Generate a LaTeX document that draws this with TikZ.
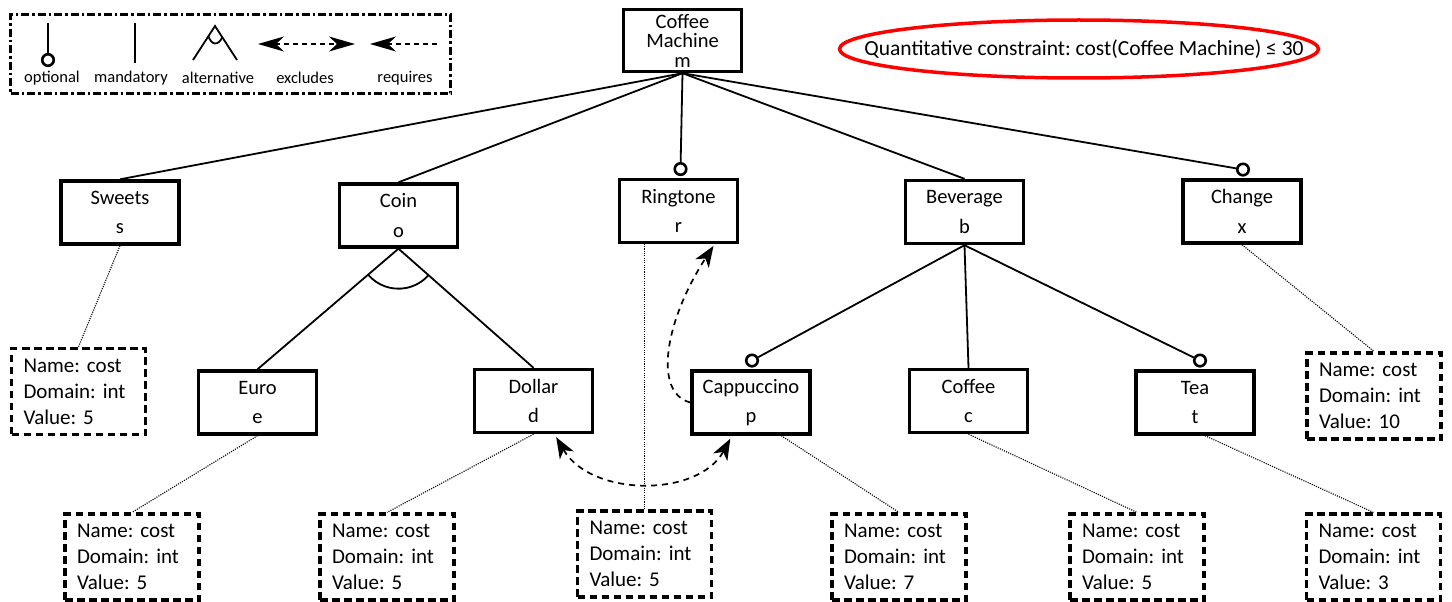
\documentclass[tikz,border=0pt]{standalone}
\usepackage{fontspec}
\setmainfont{Carlito}
\frenchspacing
\usetikzlibrary{arrows.meta,calc,shapes.geometric}

\begin{document}
\begin{tikzpicture}[x=1pt,y=1pt,
  feat/.style={draw,line width=3.4pt,minimum width=118pt,minimum height=63pt,
    inner sep=0pt,align=center,font=\fontsize{20.5}{29.5}\selectfont},
  attr/.style={draw,line width=3.2pt,dash pattern=on 7.5pt off 4.5pt,
    minimum width=134pt,minimum height=86pt,inner xsep=12pt,inner ysep=0pt,
    text width=110pt,align=left,font=\fontsize{21}{26}\selectfont},
  optc/.style={circle,draw,fill=white,line width=2.6pt,minimum size=11.5pt,inner sep=0pt},
  edge/.style={line width=1.8pt},
  attrlink/.style={line width=1.1pt,dash pattern=on 1.1pt off 1.2pt},
  cross/.style={line width=1.7pt,dash pattern=on 6pt off 5pt},
  bigtip/.style={-{Stealth[length=21pt,width=16pt,inset=6pt]}},
  bothtips/.style={{Stealth[length=21pt,width=16pt,inset=6pt]}-{Stealth[length=21pt,width=16pt,inset=6pt]}},
  legtip/.style={{Stealth[length=26pt,width=15pt,inset=8pt]}-{Stealth[length=26pt,width=15pt,inset=8pt]}},
  legtipone/.style={{Stealth[length=26pt,width=15pt,inset=8pt]}-},
  legtext/.style={font=\fontsize{16.5}{18}\selectfont,inner sep=0pt},
  legframe/.style={draw,line width=3pt,dash pattern=on 8pt off 3pt on 2.5pt off 3pt,
    minimum width=440pt,minimum height=79pt,inner sep=0pt}
]
\useasboundingbox (0,0) rectangle (1452,-602);

% ---------- legend ----------
\node[legframe] (legend) at (230.5,-54) {};
% optional
\coordinate (lo1) at (48,-23);
\node[optc] (lo) at (48,-60) {};
\draw[edge] (lo1) -- (lo);
\node[legtext] (lt1) at (52,-78) {optional};
% mandatory
\coordinate (lm1) at (135,-23);
\coordinate (lm2) at (135,-63);
\draw[edge] (lm1) -- (lm2);
\node[legtext] (lt2) at (131,-78) {mandatory};
% alternative
\coordinate (la) at (215,-26);
\coordinate (lal) at (193,-60);
\coordinate (lar) at (237,-60);
\draw[edge] (lal) -- (la) -- (lar);
\draw[edge] ($(la)!0.3!(lal)$) .. controls +(3,-9) and +(-4,-9) .. ($(la)!0.33!(lar)$);
\node[legtext] (lt3) at (218,-78) {alternative};
% excludes
\coordinate (lx1) at (258,-44);
\coordinate (lx2) at (355,-44);
\draw[line width=1.4pt,dash pattern=on 5pt off 4pt,legtip] (lx1) -- (lx2);
\node[legtext] (lt4) at (305,-78) {excludes};
% requires
\coordinate (lr1) at (370,-44);
\coordinate (lr2) at (437,-44);
\draw[line width=1.4pt,dash pattern=on 5pt off 4pt,legtipone] (lr1) -- (lr2);
\node[legtext] (lt5) at (405,-78) {requires};

% ---------- quantitative constraint ----------
\node[draw=red,ellipse,line width=3.5pt,minimum width=479pt,minimum height=58pt,inner sep=0pt] (qc) at (1079,-49) {};
\node[font=\fontsize{21.5}{24}\selectfont,inner sep=0pt] (qct) at ($(qc.center)+(5,0)$) {Quantitative constraint: cost(Coffee Machine) ≤ 30};

% ---------- features ----------
\node[feat,font=\fontsize{20.5}{19.5}\selectfont,minimum height=62pt] (cm) at (682.5,-40.5) {Coffee\\Machine\\m};
\node[feat] (sweets) at (120,-212.5) {Sweets\\s};
\node[feat] (coin)   at (398.5,-215.5) {Coin\\o};
\node[feat] (ring)   at (678.5,-211) {Ringtone\\r};
\node[feat] (bev)    at (964.5,-212) {Beverage\\b};
\node[feat] (chg)    at (1242,-211.5) {Change\\x};
\node[feat] (euro)   at (257.5,-402.5) {Euro\\e};
\node[feat] (dollar) at (533.5,-401) {Dollar\\d};
\node[feat] (capp)   at (751,-402.5) {Cappuccino\\p};
\node[feat] (coffee) at (968.5,-401) {Coffee\\c};
\node[feat] (tea)    at (1195,-402.5) {Tea\\t};

% optional markers
\node[optc,anchor=south] (ro)  at ($(ring.north)+(2,1.7)$) {};
\node[optc,anchor=south] (xo)  at ($(chg.north)+(1,1.7)$) {};
\node[optc,anchor=south] (po)  at ($(capp.north)+(1,1.7)$) {};
\node[optc,anchor=south] (to)  at ($(tea.north)+(5,1.7)$) {};

% ---------- attributes ----------
\node[attr] (sA)  at (78.5,-391.5) {Name: cost\\Domain: int\\Value: 5};
\node[attr] (chA) at (1374,-396)   {Name: cost\\Domain: int\\Value: 10};
\node[attr] (eA)  at (132,-557)    {Name: cost\\Domain: int\\Value: 5};
\node[attr] (dA)  at (387,-557)    {Name: cost\\Domain: int\\Value: 5};
\node[attr] (rA)  at (644.5,-554)  {Name: cost\\Domain: int\\Value: 5};
\node[attr] (cpA) at (899,-557)    {Name: cost\\Domain: int\\Value: 7};
\node[attr] (cfA) at (1137,-557)   {Name: cost\\Domain: int\\Value: 5};
\node[attr] (tA)  at (1373.5,-557) {Name: cost\\Domain: int\\Value: 3};

% ---------- tree edges ----------
\draw[edge] (cm.south) -- (sweets.north);
\draw[edge] (cm.south) -- (coin.north);
\draw[edge] (cm.south) -- (ro);
\draw[edge] (cm.south) -- (bev.north);
\draw[edge] (cm.south) -- (xo);
\draw[edge] (coin.south) -- (euro.north);
\draw[edge] (coin.south) -- (dollar.north);
\draw[edge] let \p1=($(euro.north)-(coin.south)$), \p2=($(dollar.north)-(coin.south)$),
  \n1={atan2(\y1,\x1)}, \n2={atan2(\y2,\x2)} in
  ($(coin.south)+(\n1:40pt)$) arc[start angle=\n1,end angle=\n2,radius=40pt];
\draw[edge] (bev.south) -- (po);
\draw[edge] (bev.south) -- (coffee.north);
\draw[edge] (bev.south) -- (to);

% ---------- attribute links ----------
\draw[attrlink] (sweets.south) -- (sA.north);
\draw[attrlink] (euro.south) -- (eA.north);
\draw[attrlink] (dollar.south) -- (dA.north);
\draw[attrlink] (rA.north) -- (rA.north |- ring.south);
\draw[attrlink] ($(capp.south)!0.5!(capp.south east)$) -- (cpA.north);
\draw[attrlink] (coffee.south) -- (cfA.north);
\draw[attrlink] ($(tea.south)+(10,0)$) -- (tA.north);
\draw[attrlink] (chg.south) -- (chA.north);

% ---------- cross-tree constraints ----------
% requires: Cappuccino -> Ringtone
\draw[cross,bigtip] (capp.west) .. controls +(-38,10) and +(-48,-74) .. ($(ring.south)+(35,-1.7)$);
% excludes: Dollar <-> Cappuccino
\draw[cross,bothtips] ($(dollar.south east)+(-38,-3)$) .. controls +(35,-60) and +(-32,-59) .. ($(capp.south west)+(40,-3)$);
\end{tikzpicture}
\end{document}
